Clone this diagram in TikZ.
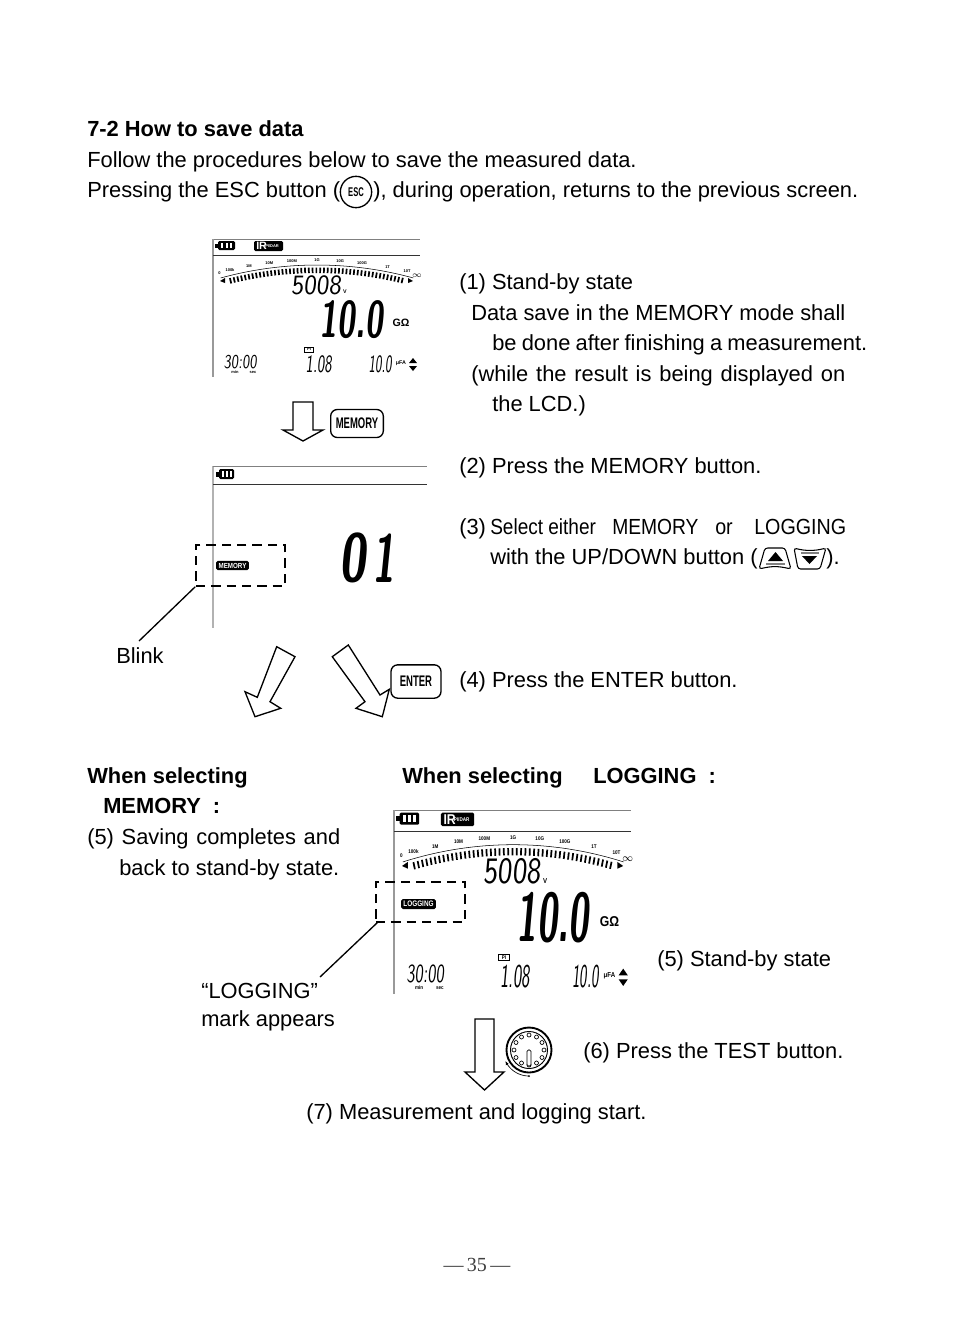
\documentclass[tikz,border=0pt]{standalone}
\usepackage{graphicx}
\usepackage{fontspec}
\setmainfont{Liberation Sans}
\newfontfamily\pagefont{Liberation Serif}
\usetikzlibrary{arrows.meta,calc}

\newlength{\pxlen}
\setlength{\pxlen}{0.75pt}
% one printed line, stretched to a given width in pixels
\newcommand{\wideline}[2]{\hbox to #1\pxlen{\spaceskip=0pt plus 1fill #2}}
\newcommand{\lcdsize}[1]{\fontsize{#1}{#1}\selectfont}

\tikzset{
  txt/.style={anchor=base west, inner sep=0pt, font=\fontsize{16.4}{20}\selectfont},
  txtbold/.style={txt, font=\fontsize{16.4}{20}\selectfont\bfseries},
  lcdnum/.style={inner sep=0pt, transform shape, xslant=0.1, font=\sffamily},
  lcdtiny/.style={inner sep=0pt, transform shape, font=\fontsize{3}{3}\selectfont\bfseries},
  lcdtag/.style={fill=black, text=white, rounded corners=1.2pt, inner sep=0pt, font=\bfseries},
  keybox/.style={draw, rounded corners=5pt, line width=1pt, inner sep=0pt, font=\bfseries},
  markbox/.style={draw, dash pattern=on 7pt off 4.5pt, line width=1.1pt, inner sep=0pt},
  hollowarrow/.style={draw, line width=1pt, fill=white, line join=miter},
}

% the stand-by screen, written in the pixels of the upper one
\newcommand{\lcdscreen}[4]{
  \begin{scope}[shift={(#1,#2)}, xscale=#3, yscale=#4]
    \draw[gray, line width=0.5pt] (0,0) -- (207,0);
    \draw[gray!80, line width=0.8pt] (0,0) -- (0,138);
    \draw[black!80, line width=0.6pt] (0,16) -- (207,16);
    \fill (2,4.5) rectangle (5,8.5);
    \fill[rounded corners=1pt] (5,2) rectangle (22,11);
    \foreach \bx in {8,12.5,17}
      \fill[white] (\bx,4) rectangle ++(2.4,5);
    \fill[rounded corners=1pt] (41,2) rectangle (70,12);
    \node[lcdtiny, text=white, font=\fontsize{8}{8}\selectfont\bfseries, anchor=west] at (43,7) {IR};
    \node[lcdtiny, text=white, anchor=west] at (52,7.5) {PI/DAR};
    % bar graph
    \draw[line width=0.4pt, smooth, domain=105.3:74.7, samples=30]
      plot ({104+365*cos(\x)},{391-365*sin(\x)});
    \foreach \a in {103.9,103.3,...,76.1}
      \draw[line width=1.3pt] ({104+362.5*cos(\a)},{391-362.5*sin(\a)}) -- ({104+357*cos(\a)},{391-357*sin(\a)});
    \fill (7,42) -- (12,39) -- (12,44) -- cycle;
    \fill (200,42) -- (195,39) -- (195,44) -- cycle;
    \foreach \a/\lab in {105.3/0,103.6/100k,100.6/1M,97.4/10M,93.9/100M,90/1G,86.4/10G,83/100G,79/1T,75.9/10T}
      \node[lcdtiny] at ({104+370*cos(\a)},{391-370*sin(\a)}) {\lab};
    \node[lcdtiny, font=\fontsize{6}{6}\selectfont] at (204,37) {$\infty$};
    % readings
    \node[lcdnum, font=\sffamily\lcdsize{21}, xscale=0.95] at (104,46) {5008};
    \node[lcdtiny, font=\fontsize{4}{4}\selectfont\bfseries] at (132,53) {V};
    \node[lcdnum, font=\sffamily\bfseries\lcdsize{38.7}, xscale=0.63] at (140.5,80.5) {10.0};
    \node[lcdtiny, font=\fontsize{8}{8}\selectfont\bfseries] at (188,84) {GΩ};
    \node[lcdtiny, draw, line width=0.3pt, minimum width=7pt, minimum height=3.5pt] at (96,110.5) {PI};
    \node[lcdnum, font=\sffamily\lcdsize{14.7}, xscale=0.75] at (28,123) {30:00};
    \node[lcdnum, font=\sffamily\lcdsize{18.8}, xscale=0.62] at (106.5,125) {1.08};
    \node[lcdnum, font=\sffamily\lcdsize{18.8}, xscale=0.55] at (168,125) {10.0};
    \node[lcdtiny] at (22,133.5) {min};
    \node[lcdtiny] at (40,133.5) {sec};
    \node[lcdtiny, font=\fontsize{4}{4}\selectfont\bfseries] at (188,124) {μFA};
    \fill (196,124) -- (204,124) -- (200,119) -- cycle;
    \fill (196,127) -- (204,127) -- (200,132) -- cycle;
  \end{scope}
}

\begin{document}
\begin{tikzpicture}[x=\pxlen, y=-\pxlen, >=Latex]
  \useasboundingbox (0,0) rectangle (954,1339);
  \fill[white] (0,0) rectangle (954,1339);

  % heading
  \node[txtbold] (title) at (87,136) {7-2 How to save data};
  \node[txt] (intro) at (87,167) {Follow the procedures below to save the measured data.};
  \node[txt] (introb) at (87,197) {Pressing the ESC button (};
  \node[draw, circle, line width=1pt, minimum size=23.5pt, inner sep=0pt, font=\bfseries] (escbutton) at (356,192) {\scalebox{.6}[1]{\fontsize{9.5}{9.5}\selectfont ESC}};
  \node[txt] (introc) at (373,197) {), during operation, returns to the previous screen.};

  % right column
  \node[txt] (stepa) at (459,289) {(1) Stand-by state};
  \node[txt] (stepaa) at (471,320) {\wideline{374}{Data save in the MEMORY mode shall}};
  \node[txt] (stepab) at (492,350) {\wideline{375}{be done after finishing a measurement.}};
  \node[txt] (stepac) at (471,381) {\wideline{374}{(while the result is being displayed on}};
  \node[txt] (stepad) at (492,411) {the LCD.)};
  \node[txt] (stepb) at (459,473) {(2) Press the MEMORY button.};
  \node[txt] (stepc) at (459,534) {(3)};
  \node[txt] (stepca) at (490,534) {\scalebox{.87}[1]{Select either}};
  \node[txt] (stepcb) at (612,534) {\scalebox{.88}[1]{MEMORY}};
  \node[txt] (stepcd) at (715,534) {\scalebox{.9}[1]{or}};
  \node[txt] (stepce) at (754,534) {\scalebox{.9}[1]{LOGGING}};
  \node[txt] (stepcf) at (490,564) {with the UP/DOWN button (};
  \node[txt] (stepcg) at (826,564) {).};
  \node[txt] (stepd) at (459,687) {(4) Press the ENTER button.};

  % up and down keys
  \draw[line width=0.8pt, rounded corners=2pt] (759,569) .. controls (772,566) and (778,566) .. (791,569) -- (785,548) -- (765,548) -- cycle;
  \draw[line width=0.8pt, rounded corners=2pt] (794,548) .. controls (805,551) and (815,551) .. (826,548) -- (820,569) -- (798,569) -- cycle;
  \fill (768,561) -- (783,561) -- (775.5,552) -- cycle;
  \fill (802,556) -- (817,556) -- (809.5,564) -- cycle;
  \draw[gray, line width=1pt] (766,564) -- (785,564) (801,553) -- (819,553);

  % screens
  \lcdscreen{213}{239}{1}{1}
  \lcdscreen{394}{810}{1.146}{1.333}

  % memory screen
  \draw[gray!60, line width=1pt] (213,466) -- (213,628);
  \draw[gray, line width=0.5pt] (213,466) -- (427,466);
  \draw[black!80, line width=0.6pt] (213,484) -- (427,484);
  \fill (216,472) rectangle (219,477);
  \fill[rounded corners=1pt] (219,469) rectangle (234,479);
  \foreach \bx in {222,226,230}
    \fill[white] (\bx,471) rectangle ++(2.2,6);
  \node[lcdnum, font=\sffamily\bfseries\lcdsize{51}, xscale=0.72] (memnumber) at (355,558) {0};
  \node[lcdnum, font=\sffamily\bfseries\lcdsize{51}, xscale=0.6] (memnumberb) at (386,558) {1};
  \node[lcdtag, minimum width=24.5pt, minimum height=7pt, font=\fontsize{5.5}{5.5}\selectfont\bfseries] (memtag) at (232.5,565.5) {\scalebox{.85}[1]{MEMORY}};
  \node[markbox, minimum width=66.75pt, minimum height=30.75pt] (blinkbox) at (240.5,565.5) {};
  \node[txt] (blink) at (116,663) {Blink};
  \coordinate (blinktip) at (139,641);
  \draw[line width=1pt] (blinkbox.south west) -- (blinktip);

  % arrows and keys
  \draw[hollowarrow] (293,402) -- (313,402) -- (313,430) -- (323,430) -- (303,441) -- (283,430) -- (293,430) -- cycle;
  \node[keybox, minimum width=39.5pt, minimum height=21pt] (memorykey) at (357,423.5) {\scalebox{.62}[1]{\fontsize{11.5}{11.5}\selectfont MEMORY}};
  \draw[hollowarrow] (276.7,646.7) -- (295,656.7) -- (270,701.7) -- (280.7,708.3) -- (255,716.7) -- (245,691.7) -- (257.3,697.3) -- cycle;
  \draw[hollowarrow] (332.3,656.7) -- (348.3,645) -- (380,695) -- (389.3,689.3) -- (382.3,716.7) -- (356,708.3) -- (365,701.7) -- cycle;
  \node[keybox, minimum width=37.5pt, minimum height=25pt] (enterkey) at (416,681.5) {\scalebox{.62}[1]{\fontsize{11.5}{11.5}\selectfont ENTER}};

  % lower left
  \node[txtbold] (whenmem) at (87,783) {When selecting};
  \node[txtbold] (whenmemb) at (103,813) {MEMORY\ \ :};
  \node[txt] (savea) at (87,844) {\wideline{253}{(5) Saving completes and}};
  \node[txt] (saveb) at (119,875) {back to stand-by state.};

  % lower right
  \node[txtbold] (whenlog) at (402,783) {When selecting};
  \node[txtbold] (whenlogb) at (593,783) {LOGGING\ \ :};
  \node[lcdtag, minimum width=26pt, minimum height=7.5pt, font=\fontsize{6}{6}\selectfont\bfseries] (logtag) at (418.5,904) {\scalebox{.8}[1]{LOGGING}};
  \node[markbox, minimum width=66.75pt, minimum height=30pt] (logbox) at (420.5,902) {};
  \node[txt] (logmark) at (201,998) {``LOGGING''};
  \node[txt] (logmarkb) at (201,1026) {mark appears};
  \coordinate (logtip) at (320,977);
  \draw[line width=1pt] (378,922) -- (logtip);
  \node[txt] (standby) at (657,966) {(5) Stand-by state};
  \node[txt] (testkey) at (583,1058) {(6) Press the TEST button.};
  \node[txt] (logstart) at (306,1119) {(7) Measurement and logging start.};

  \draw[hollowarrow] (475,1019) -- (494,1019) -- (494,1072) -- (504,1072) -- (484.5,1090) -- (465,1072) -- (475,1072) -- cycle;

  % test dial
  \draw[line width=1.4pt] (529,1050) circle (22.5);
  \draw[line width=0.7pt] (529,1050) circle (18.5);
  \foreach \a in {30,60,...,360}
    \draw[line width=0.5pt] ($(529,1050)+({15*cos(\a)},{15*sin(\a)})$) circle (2);
  \draw[line width=0.6pt, fill=white, rounded corners=1pt] (527,1050) rectangle (531,1066);
  \fill (529,1050) circle (0.4);
  \draw[line width=0.5pt, <-, >={Latex[length=3pt,width=2.5pt]}, domain=155:90, samples=15, smooth] plot ({529+26*cos(\x)},{1050+26*sin(\x)});
  \fill (529,1076) circle (1);

  \node[inner sep=0pt, text=black!75, font=\fontsize{15}{18}\selectfont\pagefont] (pagenum) at (477,1265) {—\,35\,—};
\end{tikzpicture}
\end{document}
